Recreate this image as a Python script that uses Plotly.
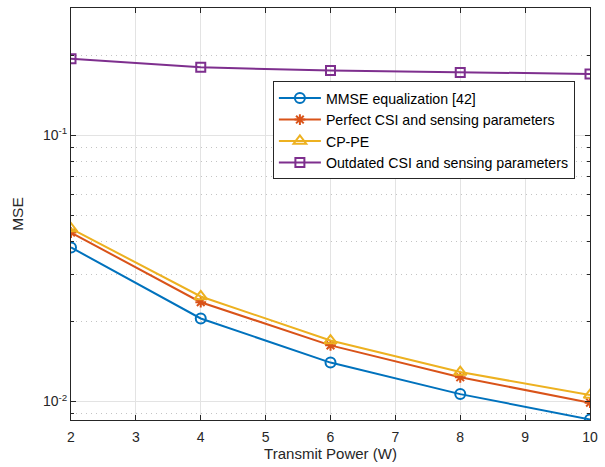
import plotly.graph_objects as go

power = [2, 4, 6, 8, 10]
mmse = [0.0379, 0.0205, 0.0140, 0.01066, 0.00856]
perfect = [0.0431, 0.0236, 0.01625, 0.01233, 0.0099]
cppe = [0.0446, 0.0248, 0.01694, 0.0129, 0.01057]
outdated = [0.194, 0.180, 0.175, 0.172, 0.170]

names = ["MMSE equalization [42]", "Perfect CSI and sensing parameters", "CP-PE",
         "Outdated CSI and sensing parameters"]
series = [mmse, perfect, cppe, outdated]
colors = ["#0072BD", "#D95319", "#EDB120", "#7E2F8E"]
symbols = ["circle-open", "asterisk-open", "triangle-up-open", "square-open"]
sizes = [10, 9, 11, 9]

ytickvals = [0.01, 0.1]
yticktext = ["10<sup>-2</sup>", "10<sup>-1</sup>"]
yminor = [0.009, 0.02, 0.03, 0.04, 0.05, 0.06, 0.07, 0.08, 0.09, 0.2, 0.3]

fig = go.Figure()
for n, s, c, m, sz in zip(names, series, colors, symbols, sizes):
    fig.add_trace(go.Scatter(
        x=power, y=s, name=n, mode="lines+markers",
        line=dict(color=c, width=2),
        marker=dict(symbol=m, size=sz, color=c, line=dict(color=c, width=2)),
    ))

axcol = "#262626"
fig.update_layout(
    width=605, height=467,
    margin=dict(l=71, r=9, t=7, b=47),
    paper_bgcolor="white", plot_bgcolor="white",
    font=dict(family="Liberation Sans, Arial, sans-serif", size=14, color=axcol),
    showlegend=True,
    legend=dict(x=0.389, y=0.822, xanchor="left", yanchor="top",
                bgcolor="white", bordercolor=axcol, borderwidth=1,
                font=dict(size=14.2, color="black"), itemwidth=42,
                tracegroupgap=0),
)
fig.update_xaxes(
    range=[2, 10], tickvals=list(range(2, 11)),
    showgrid=True, gridcolor="#E3E3E3", gridwidth=1,
    showline=True, linecolor=axcol, linewidth=1, mirror="ticks",
    ticks="inside", ticklen=5, tickcolor=axcol, zeroline=False,
    ticklabelstandoff=4,
    title=dict(text="Transmit Power (W)", font=dict(size=15), standoff=4),
    tickfont=dict(size=14),
)
fig.update_yaxes(
    type="log", range=[-2.0695, -0.522],
    tickvals=ytickvals, ticktext=yticktext,
    showgrid=True, gridcolor="#E3E3E3", gridwidth=1,
    showline=True, linecolor=axcol, linewidth=1, mirror="ticks",
    ticks="inside", ticklen=5, tickcolor=axcol, zeroline=False,
    minor=dict(tickvals=yminor, showgrid=True, gridcolor="#C4C4C4",
               griddash="1px,4px", gridwidth=1, ticks="inside", ticklen=3,
               tickcolor=axcol),
    title=dict(text="MSE", font=dict(size=15.5), standoff=15),
    tickfont=dict(size=14),
)

fig.write_html("out.html", config={"displayModeBar": False},
               post_script="document.body.style.margin='0';document.body.style.padding='0';")
